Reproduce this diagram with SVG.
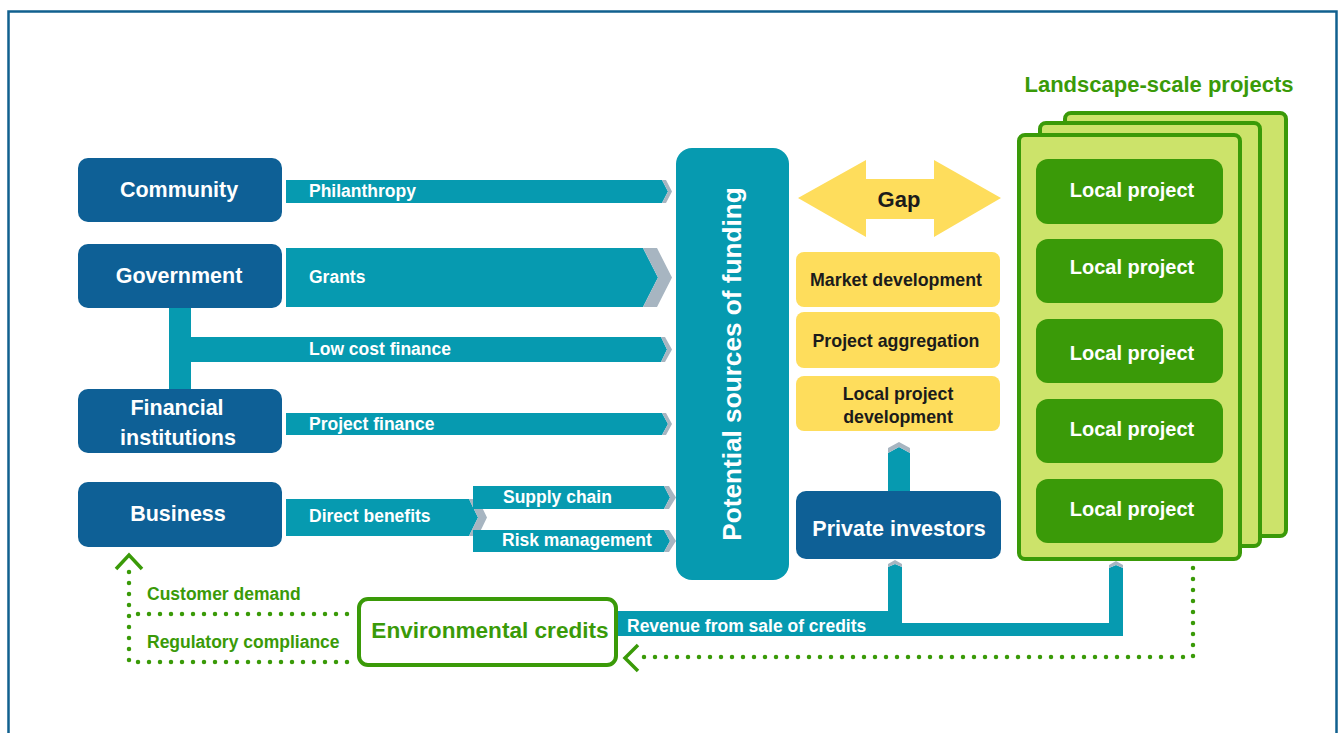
<svg xmlns="http://www.w3.org/2000/svg" width="1340" height="733" viewBox="0 0 1340 733">
  <style>
    .t { font-family: "Liberation Sans", Arial, sans-serif; font-weight: bold; }
    .node { fill: #0e6096; }
    .nodeText { fill: #ffffff; font-size: 21.5px; text-anchor: middle; }
    .bar { fill: #069ab0; }
    .cap { fill: #a7b5c1; }
    .barText { fill: #ffffff; font-size: 17.5px; }
    .gap { fill: #fedd5c; }
    .gapText { fill: #1b1b1b; font-size: 17.8px; text-anchor: middle; }
    .card { fill: #cce36a; stroke: #3a9a08; stroke-width: 4; }
    .local { fill: #3a9a08; }
    .localText { fill: #ffffff; font-size: 20px; text-anchor: middle; }
    .greenText { fill: #3a9a08; }
    .dots { fill: none; stroke: #3a9a08; stroke-width: 4.5; stroke-linecap: round; stroke-dasharray: 0 11; }
    .head { fill: none; stroke: #3a9a08; stroke-width: 3.5; }
  </style>

  <!-- outer frame -->
  <rect x="8.5" y="11.5" width="1328" height="740" fill="#ffffff" stroke="#11608f" stroke-width="2.5"/>

  <!-- funding flows -->
  <g id="connectors">
    <!-- Government to Financial institutions link, feeding the low cost finance bar -->
    <rect class="bar" x="169" y="307" width="22" height="82"/>

    <polygon class="bar" points="286,180 662,180 668,191.5 662,203 286,203"/>
    <polygon class="cap" points="662,180 666,180 672,191.5 666,203 662,203 668,191.5"/>
    <text class="t barText" x="309" y="197">Philanthropy</text>

    <polygon class="bar" points="286,248 643,248 658,277.5 643,307 286,307"/>
    <polygon class="cap" points="643,248 657,248 672,277.5 657,307 643,307 658,277.5"/>
    <text class="t barText" x="309" y="283">Grants</text>

    <polygon class="bar" points="191,337 661,337 667,349.5 661,362 191,362"/>
    <polygon class="cap" points="661,337 665,337 672,349.5 665,362 661,362 667,349.5"/>
    <text class="t barText" x="309" y="355">Low cost finance</text>

    <polygon class="bar" points="286,413 662,413 668,424 662,435 286,435"/>
    <polygon class="cap" points="662,413 666,413 672,424 666,435 662,435 668,424"/>
    <text class="t barText" x="309" y="430">Project finance</text>

    <polygon class="bar" points="286,499 469,499 478,517.5 469,536 286,536"/>
    <polygon class="cap" points="469,499 478,499 487,517.5 478,536 469,536 478,517.5"/>
    <text class="t barText" x="309" y="522">Direct benefits</text>

    <polygon class="bar" points="473,486 664,486 670,497.5 664,509 473,509"/>
    <polygon class="cap" points="664,486 669,486 676,497.5 669,509 664,509 670,497.5"/>
    <text class="t barText" x="503" y="503">Supply chain</text>

    <polygon class="bar" points="473,530 664,530 670,541 664,552 473,552"/>
    <polygon class="cap" points="664,530 669,530 676,541 669,552 664,552 670,541"/>
    <text class="t barText" x="502" y="546">Risk management</text>

    <!-- private investors up to the gap activities -->
    <polygon class="bar" points="888,491 888,453 899,447 910,453 910,491"/>
    <polygon class="cap" points="888,453 888,448 899,442 910,448 910,453 899,447"/>

    <!-- revenue from credits back to investors and projects -->
    <polygon class="bar" points="618,611 888,611 888,567 895,564 902,567 902,623 1109,623 1109,568 1116,565 1123,568 1123,636 618,636"/>
    <polygon class="cap" points="888,567 888,564 895,560 902,564 902,567 895,564"/>
    <polygon class="cap" points="1109,568 1109,565 1116,561 1123,565 1123,568 1116,565"/>
    <text class="t barText" x="627" y="632">Revenue from sale of credits</text>

    <!-- dotted demand paths -->
    <path class="dots" d="M347,614 H129"/>
    <path class="dots" d="M347,662 H129 V570"/>
    <polyline class="head" points="116,569 129,555 142,569"/>
    <path class="dots" d="M1193,568 V657 H640"/>
    <polyline class="head" points="638,645 625,658 638,671"/>
    <text class="t greenText" x="147" y="600" font-size="17.5">Customer demand</text>
    <text class="t greenText" x="147" y="648" font-size="17.5">Regulatory compliance</text>
  </g>

  <g id="community">
    <rect class="node" x="78" y="158" width="204" height="64" rx="10"/>
    <text class="t nodeText" x="179" y="197">Community</text>
  </g>
  <g id="government">
    <rect class="node" x="78" y="244" width="204" height="64" rx="10"/>
    <text class="t nodeText" x="179" y="283">Government</text>
  </g>
  <g id="financial-institutions">
    <rect class="node" x="78" y="389" width="204" height="64" rx="10"/>
    <text class="t nodeText" x="177" y="415">Financial</text>
    <text class="t nodeText" x="178" y="445">institutions</text>
  </g>
  <g id="business">
    <rect class="node" x="78" y="482" width="204" height="65" rx="10"/>
    <text class="t nodeText" x="178" y="521">Business</text>
  </g>

  <g id="potential-sources">
    <rect class="bar" x="676" y="148" width="113" height="432" rx="16"/>
    <text class="t" transform="translate(741,364) rotate(-90)" fill="#ffffff" font-size="26.2" text-anchor="middle">Potential sources of funding</text>
  </g>

  <g id="gap">
    <polygon class="gap" points="798,198 866,160 866,179 934,179 934,160 1001,198 934,237 934,219 866,219 866,237"/>
    <text class="t" x="899" y="207" fill="#1b1b1b" font-size="22" text-anchor="middle">Gap</text>
  </g>
  <g id="market-development">
    <rect class="gap" x="796" y="252" width="204" height="55" rx="8"/>
    <text class="t gapText" x="896" y="286">Market development</text>
  </g>
  <g id="project-aggregation">
    <rect class="gap" x="796" y="312" width="204" height="56" rx="8"/>
    <text class="t gapText" x="896" y="347">Project aggregation</text>
  </g>
  <g id="local-project-development">
    <rect class="gap" x="796" y="376" width="204" height="55" rx="8"/>
    <text class="t gapText" x="898" y="400">Local project</text>
    <text class="t gapText" x="898" y="423">development</text>
  </g>

  <g id="private-investors">
    <rect class="node" x="796" y="491" width="205" height="68" rx="10"/>
    <text class="t nodeText" x="899" y="536" font-size="22.3">Private investors</text>
  </g>

  <g id="environmental-credits">
    <rect x="359" y="599" width="257" height="66" rx="9" fill="#ffffff" stroke="#3a9a08" stroke-width="4"/>
    <text class="t greenText" x="490" y="638" font-size="22.6" text-anchor="middle">Environmental credits</text>
  </g>

  <g id="landscape-projects">
    <text class="t greenText" x="1159" y="92" font-size="22" text-anchor="middle">Landscape-scale projects</text>
    <rect class="card" x="1065" y="113" width="221" height="423" rx="6"/>
    <rect class="card" x="1040" y="123" width="220" height="423" rx="6"/>
    <rect class="card" x="1019" y="135" width="221" height="424" rx="6"/>
    <g id="local-project-1">
      <rect class="local" x="1036" y="159" width="187" height="65" rx="12"/>
      <text class="t localText" x="1132" y="197">Local project</text>
    </g>
    <g id="local-project-2">
      <rect class="local" x="1036" y="239" width="187" height="64" rx="12"/>
      <text class="t localText" x="1132" y="274">Local project</text>
    </g>
    <g id="local-project-3">
      <rect class="local" x="1036" y="319" width="187" height="64" rx="12"/>
      <text class="t localText" x="1132" y="360">Local project</text>
    </g>
    <g id="local-project-4">
      <rect class="local" x="1036" y="399" width="187" height="64" rx="12"/>
      <text class="t localText" x="1132" y="436">Local project</text>
    </g>
    <g id="local-project-5">
      <rect class="local" x="1036" y="479" width="187" height="64" rx="12"/>
      <text class="t localText" x="1132" y="516">Local project</text>
    </g>
  </g>
</svg>
